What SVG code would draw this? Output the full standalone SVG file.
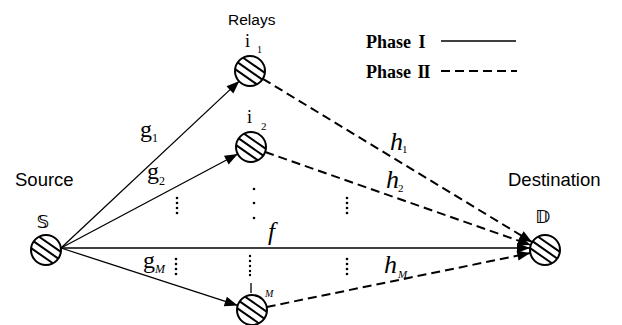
<svg xmlns="http://www.w3.org/2000/svg" xmlns:xlink="http://www.w3.org/1999/xlink" width="622" height="325" viewBox="0 0 622 325">
<style>
.lbl{font-family:"Liberation Sans",Arial,sans-serif;fill:#000}
.ser{font-family:"Liberation Serif","Times New Roman",serif;fill:#000}
.it{font-style:italic}
.leg{font-family:"Liberation Serif","Times New Roman",serif;font-weight:bold;font-size:18px;fill:#000}
.solid{stroke:#000;stroke-width:1.3;fill:none}
.dash{stroke:#000;stroke-width:2;stroke-dasharray:9 5;fill:none}
.dot{fill:#000}
.ds{font-family:"DejaVu Sans",sans-serif;font-size:18px;font-weight:bold;fill:#000}
</style>
<defs>
<marker id="arr" markerUnits="userSpaceOnUse" markerWidth="14" markerHeight="10" refX="13" refY="5" orient="auto" overflow="visible">
<path d="M0,0 L13,5 L0,10 Z" fill="#000"/>
</marker>
<g id="hub">
<circle r="15" fill="#fff" stroke="#000" stroke-width="2"/>
<path d="M-14.9,-1.9 L6.9,13.3 M-12.3,-8.6 L12.3,8.6 M-6.9,-13.3 L14.9,1.9" stroke="#000" stroke-width="2" fill="none"/>
</g>
</defs>
<rect width="622" height="325" fill="#fff"/>

<g id="connectors">
<line class="solid" x1="61" y1="248" x2="239.4" y2="80.9" marker-end="url(#arr)"/>
<line class="solid" x1="61" y1="248" x2="237.8" y2="154" marker-end="url(#arr)"/>
<line class="solid" x1="61" y1="248" x2="237.7" y2="305.4" marker-end="url(#arr)"/>
<line class="solid" x1="61" y1="248" x2="530" y2="248" marker-end="url(#arr)"/>
<line class="dash" x1="262.8" y1="78.8" x2="532.2" y2="242.2" marker-end="url(#arr)"/>
<line class="dash" x1="265.2" y1="152" x2="530.8" y2="245" marker-end="url(#arr)"/>
<line class="dash" x1="266.7" y1="307" x2="530.3" y2="253" marker-end="url(#arr)"/>
</g>

<g id="source">
<use xlink:href="#hub" x="46" y="250"/>
<text class="ds" x="43" y="228" text-anchor="middle">𝕊</text>
<text class="lbl" x="15" y="186" font-size="18.5">Source</text>
</g>
<g id="relay1">
<use xlink:href="#hub" x="250" y="71"/>
<text class="ser" x="245" y="47" font-size="18">i</text>
<text class="ser" x="257" y="53" font-size="10">1</text>
</g>
<g id="relay2">
<use xlink:href="#hub" x="251" y="147"/>
<text class="ser" x="247" y="123" font-size="18">i</text>
<text class="ser" x="261" y="130" font-size="11">2</text>
</g>
<g id="relayM">
<use xlink:href="#hub" x="252" y="310"/>
<text class="ser it" x="265" y="297" font-size="10">M</text>
</g>
<g id="destination">
<use xlink:href="#hub" x="545" y="250"/>
<text class="ds" x="543" y="223" text-anchor="middle">𝔻</text>
<text class="lbl" x="508" y="186" font-size="18.5">Destination</text>
</g>
<text class="lbl" x="228" y="25" font-size="15.5">Relays</text>

<g id="legend">
<text class="leg" x="366" y="48">Phase <tspan dx="3">I</tspan></text>
<text class="leg" x="366" y="78">Phase <tspan dx="2" letter-spacing="-1">II</tspan></text>
<line x1="441" y1="41" x2="516" y2="41" stroke="#000" stroke-width="1.5"/>
<line x1="441" y1="71" x2="517" y2="71" stroke="#000" stroke-width="2" stroke-dasharray="9 5"/>
</g>

<g id="edge-labels">
<text class="ser" x="140" y="137" font-size="24">g</text>
<text class="ser" x="152" y="142" font-size="12">1</text>
<text class="ser" x="147" y="179" font-size="24">g</text>
<text class="ser" x="159" y="185" font-size="12">2</text>
<text class="ser" x="143" y="268" font-size="24">g</text>
<text class="ser it" x="155" y="273" font-size="12">M</text>
<text class="ser it" x="268" y="240" font-size="25">f</text>
<text class="ser it" x="390" y="150" font-size="26">h</text>
<text class="ser" x="402" y="153" font-size="11">1</text>
<text class="ser it" x="386" y="188" font-size="26">h</text>
<text class="ser" x="398" y="192" font-size="11">2</text>
<text class="ser it" x="384" y="273" font-size="26">h</text>
<text class="ser it" x="398" y="278" font-size="11">M</text>
</g>

<g id="ellipses">
<circle class="dot" cx="177" cy="198" r="1.3"/><circle class="dot" cx="177" cy="203" r="1.3"/><circle class="dot" cx="177" cy="208" r="1.3"/><circle class="dot" cx="177" cy="213" r="1.3"/>
<circle class="dot" cx="176" cy="259" r="1.3"/><circle class="dot" cx="176" cy="264" r="1.3"/><circle class="dot" cx="176" cy="269" r="1.3"/><circle class="dot" cx="176" cy="274" r="1.3"/>
<circle class="dot" cx="254" cy="189" r="1.3"/><circle class="dot" cx="254" cy="203" r="1.3"/><circle class="dot" cx="254" cy="218" r="1.3"/>
<circle class="dot" cx="250" cy="256" r="1.2"/><circle class="dot" cx="250" cy="261" r="1.2"/><circle class="dot" cx="250" cy="266" r="1.2"/><circle class="dot" cx="250" cy="271" r="1.2"/><circle class="dot" cx="250" cy="275" r="1.2"/>
<line x1="251" y1="283" x2="251" y2="293" stroke="#000" stroke-width="1.3"/>
<circle class="dot" cx="347" cy="198" r="1.3"/><circle class="dot" cx="347" cy="203" r="1.3"/><circle class="dot" cx="347" cy="208" r="1.3"/><circle class="dot" cx="347" cy="213" r="1.3"/>
<circle class="dot" cx="347" cy="259" r="1.3"/><circle class="dot" cx="347" cy="264" r="1.3"/><circle class="dot" cx="347" cy="269" r="1.3"/><circle class="dot" cx="347" cy="274" r="1.3"/>
</g>
</svg>
